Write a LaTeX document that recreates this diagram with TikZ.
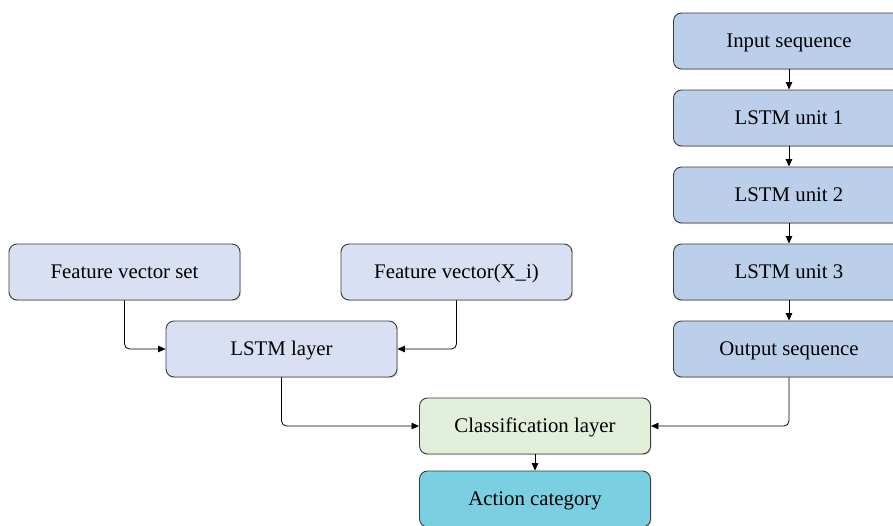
\documentclass[tikz,border=0pt]{standalone}
\usepackage{fontspec}
\setmainfont{LiberationSerif}[Extension=.ttf,UprightFont=*-Regular,BoldFont=*-Bold]
\usetikzlibrary{arrows.meta,shadows}
\definecolor{rightfill}{HTML}{BCCFEA}
\definecolor{leftfill}{HTML}{DAE0F3}
\definecolor{clsfill}{HTML}{E2EFDA}
\definecolor{actfill}{HTML}{7ACFE0}
\definecolor{edge}{HTML}{3A3A3A}
\tikzset{
  box/.style={draw=edge, line width=0.9pt, rounded corners=8pt, minimum width=231pt, minimum height=56pt,
    inner sep=0pt, font=\fontsize{20.8}{24}\selectfont, anchor=center, text height=15pt, text depth=2pt,
    drop shadow={shadow xshift=1.2pt, shadow yshift=-1.2pt, fill=black!25, opacity=0.5}},
  conn/.style={draw=black, line width=0.8pt, -{Triangle[length=7.5pt,width=6.5pt]}, rounded corners=5pt},
}
\begin{document}
\begin{tikzpicture}[x=1pt,y=-1pt]
\useasboundingbox (0,0) rectangle (893,525);
\node[box, fill=rightfill] (in) at (789,41) {Input sequence};
\node[box, fill=rightfill] (u1) at (789,118) {LSTM unit 1};
\node[box, fill=rightfill] (u2) at (789,195) {LSTM unit 2};
\node[box, fill=rightfill] (u3) at (789,272) {LSTM unit 3};
\node[box, fill=rightfill] (out) at (789,349) {Output sequence};
\node[box, fill=leftfill] (fvs) at (124.5,272) {Feature vector set};
\node[box, fill=leftfill] (fvx) at (456.5,272) {Feature vector(X\_i)};
\node[box, fill=leftfill] (lstm) at (281.5,349) {LSTM layer};
\node[box, fill=clsfill] (cls) at (535,426) {Classification layer};
\node[box, fill=actfill] (act) at (535,499) {Action category};
\draw[conn] (in) -- (u1);
\draw[conn] (u1) -- (u2);
\draw[conn] (u2) -- (u3);
\draw[conn] (u3) -- (out);
\draw[conn] (fvs.south) |- (lstm.west);
\draw[conn] (fvx.south) |- (lstm.east);
\draw[conn] (lstm.south) |- (cls.west);
\draw[conn] (out.south) |- (cls.east);
\draw[conn] (cls) -- (act);
\end{tikzpicture}
\end{document}
